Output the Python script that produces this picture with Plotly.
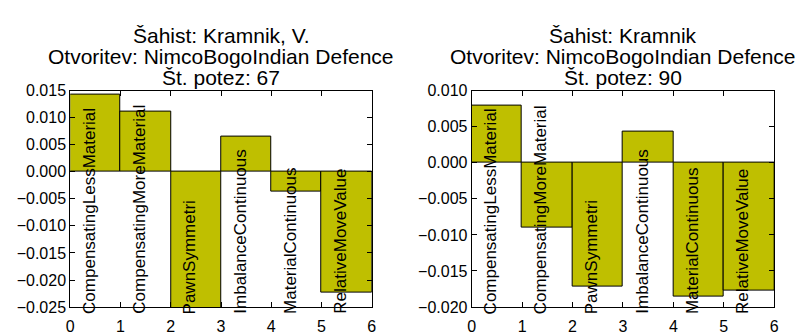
import plotly.graph_objects as go

features = ["CompensatingLessMaterial", "CompensatingMoreMaterial", "PawnSymmetri",
            "ImbalanceContinuous", "MaterialContinuous", "RelativeMoveValue"]
x_pos = [0.5, 1.5, 2.5, 3.5, 4.5, 5.5]
values_left = [0.0142, 0.0111, -0.0270, 0.0065, -0.0037, -0.0223]
values_right = [0.0079, -0.0090, -0.0172, 0.0043, -0.0185, -0.0177]
titles = [["Šahist: Kramnik, V.", "Otvoritev: NimcoBogoIndian Defence", "Št. potez: 67"],
          ["Šahist: Kramnik", "Otvoritev: NimcoBogoIndian Defence", "Št. potez: 90"]]
y_ranges = [[-0.025, 0.015], [-0.020, 0.010]]
y_ticks = [[-0.025, -0.020, -0.015, -0.010, -0.005, 0.0, 0.005, 0.010, 0.015],
           [-0.020, -0.015, -0.010, -0.005, 0.0, 0.005, 0.010]]
x_ticks = [0, 1, 2, 3, 4, 5, 6]

W, H = 798, 336
x_domains = [[67 / W, 372 / W], [473 / W, 779 / W]]
y_domain = [1 - 315 / H, 1 - 87 / H]
title_line_px = [29, 51, 73]
FONT = "Liberation Sans, Arial, sans-serif"

fig = go.Figure()
layout = dict(width=W, height=H, margin=dict(l=0, r=0, t=0, b=0),
              paper_bgcolor="white", plot_bgcolor="white", showlegend=False,
              font=dict(family=FONT, size=16, color="black"), bargap=0)
annotations = []
for k, vals in enumerate([values_left, values_right]):
    xa = "x" if k == 0 else "x2"
    ya = "y" if k == 0 else "y2"
    fig.add_trace(go.Bar(x=x_pos, y=vals, width=1, xaxis=xa, yaxis=ya,
                         marker=dict(color="#bfbf00", line=dict(color="black", width=1))))
    axis_common = dict(showgrid=False, zeroline=False, showline=True, linecolor="black",
                       linewidth=1, mirror="ticks", ticks="inside", ticklen=5,
                       tickcolor="black", tickfont=dict(family=FONT, size=16))
    xkey = "xaxis" if k == 0 else "xaxis2"
    ykey = "yaxis" if k == 0 else "yaxis2"
    layout[xkey] = dict(axis_common, domain=x_domains[k], range=[0, 6], tickvals=x_ticks,
                        anchor=ya, ticklabelstandoff=5)
    layout[ykey] = dict(axis_common, domain=y_domain, range=y_ranges[k], tickvals=y_ticks[k],
                        tickformat=".3f", anchor=xa)
    for name, xp in zip(features, x_pos):
        annotations.append(dict(x=xp - 0.13, y=y_ranges[k][0], xref=xa, yref=ya, text=name,
                                textangle=-90, showarrow=False, xanchor="center",
                                yanchor="bottom", yshift=-9, font=dict(family=FONT, size=17)))
    for line, ypx in zip(titles[k], title_line_px):
        annotations.append(dict(x=(x_domains[k][0] + x_domains[k][1]) / 2, y=1 - ypx / H,
                                xref="paper", yref="paper", text=line, showarrow=False,
                                xanchor="center", yanchor="middle",
                                font=dict(family=FONT, size=21)))
layout["annotations"] = annotations
fig.update_layout(**layout)
fig.write_html("out.html")
